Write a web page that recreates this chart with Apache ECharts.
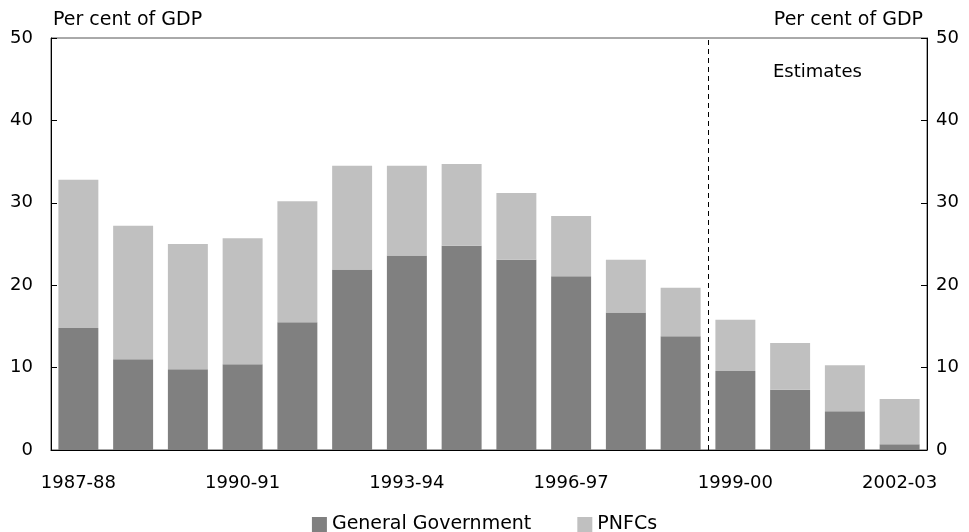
<!DOCTYPE html>
<html lang="en">
<head>
    <meta charset="UTF-8">
    <title>Public sector debt</title>
    <script src="https://cdn.jsdelivr.net/npm/echarts@6/dist/echarts.min.js"></script>
    <style>
        html, body { margin: 0; padding: 0; background: #fff; }
        #main { width: 969px; height: 532px; }
    </style>
</head>
<body>
<div id="main"></div>
<script>
    var years = ['1987-88', '1988-89', '1989-90', '1990-91', '1991-92', '1992-93', '1993-94', '1994-95',
        '1995-96', '1996-97', '1997-98', '1998-99', '1999-00', '2000-01', '2001-02', '2002-03'];
    // general government part of each bar
    var generalGov = [14.8, 11.0, 9.8, 10.4, 15.5, 21.9, 23.6, 24.8, 23.1, 21.1, 16.7, 13.8, 9.6, 7.3, 4.7, 0.7];
    // PNFCs stacked on top
    var pnfcs = [18.0, 16.2, 15.2, 15.3, 14.7, 12.6, 10.9, 9.9, 8.1, 7.3, 6.4, 5.9, 6.2, 5.7, 5.6, 5.5];
    var estimatesFrom = 12; // boundary index where estimates start

    var font = 'DejaVu Sans';
    var chart = echarts.init(document.getElementById('main'));

    var option = {
        animation: false,
        backgroundColor: '#fff',
        textStyle: { fontFamily: font, color: '#000' },
        grid: {
            left: 51, right: 42, top: 38, bottom: 82,
            show: true, borderColor: '#555', borderWidth: 1, backgroundColor: 'transparent'
        },
        graphic: [{
            type: 'text', left: 773, top: 63,
            style: { text: 'Estimates', font: '18px "DejaVu Sans"', fill: '#000' }
        }],
        legend: {
            bottom: -7, left: 'center',
            itemWidth: 15, itemHeight: 15, itemGap: 46,
            icon: 'rect',
            textStyle: { fontFamily: font, fontSize: 19, color: '#000' },
            data: ['General Government', 'PNFCs']
        },
        xAxis: [{
            type: 'category',
            data: years,
            axisLine: { lineStyle: { color: '#000' } },
            axisTick: { inside: true, length: 6, interval: 0, lineStyle: { color: '#000' } },
            axisLabel: { interval: 2, fontSize: 18, color: '#000', margin: 24, fontFamily: font }
        }, {
            type: 'value', min: 0, max: years.length, show: false
        }],
        yAxis: [{
            type: 'value', min: 0, max: 50, interval: 10,
            name: 'Per cent of GDP', nameLocation: 'end', nameGap: 8,
            nameTextStyle: { align: 'left', fontSize: 19, color: '#000', fontFamily: font, padding: [0, 0, 0, 2] },
            axisLine: { show: true, lineStyle: { color: '#000' } },
            axisTick: { show: true, inside: true, length: 6, lineStyle: { color: '#000' } },
            axisLabel: { fontSize: 18, color: '#000', margin: 18, fontFamily: font },
            splitLine: { show: false }
        }, {
            type: 'value', min: 0, max: 50, interval: 10, position: 'right',
            name: 'Per cent of GDP', nameLocation: 'end', nameGap: 8,
            nameTextStyle: { align: 'right', fontSize: 19, color: '#000', fontFamily: font, padding: [0, 4, 0, 0] },
            axisLine: { show: true, lineStyle: { color: '#000' } },
            axisTick: { show: true, inside: true, length: 6, lineStyle: { color: '#000' } },
            axisLabel: { fontSize: 18, color: '#000', margin: 9, fontFamily: font },
            splitLine: { show: false }
        }],
        series: [{
            name: 'General Government',
            type: 'bar', stack: 'total',
            barCategoryGap: '27%',
            itemStyle: { color: '#808080' },
            data: generalGov
        }, {
            name: 'PNFCs',
            type: 'bar', stack: 'total',
            barCategoryGap: '27%',
            itemStyle: { color: '#c0c0c0' },
            data: pnfcs
        }, {
            name: 'boundary',
            type: 'line',
            xAxisIndex: 1,
            yAxisIndex: 0,
            data: [],
            silent: true,
            markLine: {
                silent: true,
                symbol: 'none',
                label: { show: false },
                lineStyle: { color: '#000', type: [5, 4], width: 1 },
                data: [{ xAxis: estimatesFrom }]
            }
        }]
    };
    chart.setOption(option);
</script>
</body>
</html>
